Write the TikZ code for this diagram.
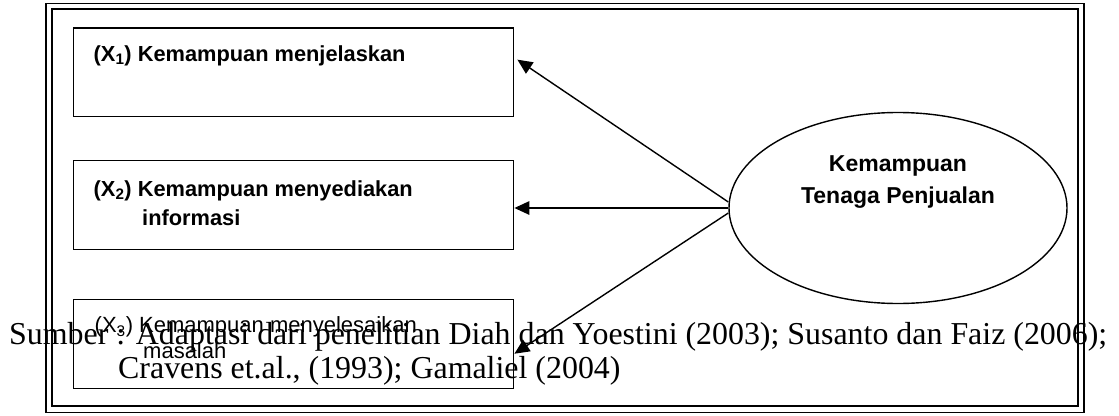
\documentclass[tikz,border=0pt]{standalone}
\usepackage{fontspec}
\setmainfont{Liberation Serif}
\newfontfamily\labelfont{Liberation Sans}
\usetikzlibrary{arrows.meta,shapes.geometric}
\begin{document}
\begin{tikzpicture}[x=1pt,y=-1pt,
  frameline/.style={line width=1.7pt},
  itembox/.style={draw,line width=1.4pt,rectangle,anchor=north west,inner sep=0pt,
    minimum width=440.5pt,minimum height=88.7pt},
  itemtext/.style={anchor=base west,inner sep=0pt,
    font=\labelfont\bfseries\fontsize{21.8}{26}\selectfont},
  itemthin/.style={anchor=base west,inner sep=0pt,
    font=\labelfont\fontsize{22}{26}\selectfont},
  latent/.style={draw,line width=1.4pt,ellipse,inner sep=0pt,
    minimum width=338pt,minimum height=191pt},
  latenttext/.style={anchor=base,inner sep=0pt,
    font=\labelfont\bfseries\fontsize{23}{28}\selectfont},
  conn/.style={line width=1.4pt,-{Triangle[length=15pt,width=13.5pt]}},
  source/.style={anchor=base west,inner sep=0pt,font=\fontsize{31.9}{36}\selectfont}]
\useasboundingbox (0,0) rectangle (1119,415);

% double frame
\draw[frameline] (45.8,3.5) rectangle (1084.2,412.5);
\draw[frameline] (51.8,8.8) rectangle (1077.7,405.8);

% indicator boxes
\node[itembox] (b1) at (72.5,27.3) {};
\node[itembox] (b2) at (72.5,160) {};
\node[itembox] (b3) at (72.5,299) {};

\node[itemtext] (l1) at (93.5,61) {(X\textsubscript{1}) Kemampuan menjelaskan};
\node[itemtext] (l2a) at (93.5,196) {(X\textsubscript{2}) Kemampuan menyediakan};
\node[itemtext] (l2b) at (142,225) {informasi};
\node[itemthin] (l3a) at (94.5,332.5) {(X\textsubscript{3}) Kemampuan menyelesaikan};
\node[itemthin] (l3b) at (143,358) {masalah};

% latent construct
\node[latent] (e) at (898,208) {};
\node[latenttext] (e1) at (898,171.5) {Kemampuan};
\node[latenttext] (e2) at (898,203) {Tenaga Penjualan};

% loadings
\draw[conn] ([yshift=6pt]e.west) -- ([xshift=3pt,yshift=12.7pt]b1.east);
\draw[conn] (e.west) -- (b2.east |- e.west);
\draw[conn] ([yshift=-5pt]e.west) -- ([yshift=-9.7pt]b3.east);

% source note
\node[source] (s1) at (9,344) {Sumber : Adaptasi dari penelitian Diah dan Yoestini (2003); Susanto dan Faiz (2006);};
\node[source] (s2) at (118,378) {Cravens et.al., (1993); Gamaliel (2004)};
\end{tikzpicture}
\end{document}
